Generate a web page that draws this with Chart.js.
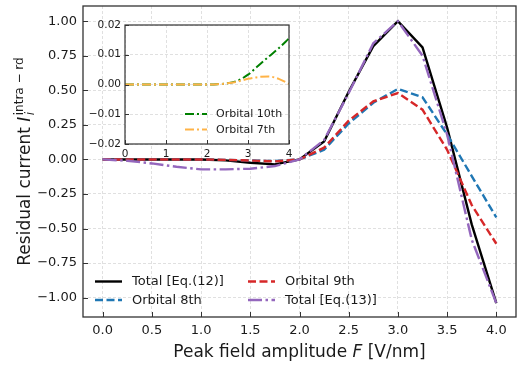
<!DOCTYPE html>
<html><head><meta charset="utf-8">
<script src="https://cdn.jsdelivr.net/npm/chart.js@4.4.0/dist/chart.umd.min.js"></script>
<style>
html,body{margin:0;padding:0;background:#fff;}
#wrap{position:relative;width:523px;height:369px;overflow:hidden;}
#main{position:absolute;left:0;top:0;}
#inset{position:absolute;left:88px;top:18px;}
</style></head><body>
<div id="wrap"><canvas id="main" width="523" height="369"></canvas><canvas id="inset" width="210" height="142"></canvas></div>
<script>
// ---------------- data ----------------
const fieldValues = [0, 0.25, 0.5, 0.75, 1.0, 1.25, 1.5, 1.75, 2.0, 2.25, 2.5, 2.75, 3.0, 3.25, 3.5, 3.75, 4.0];
const totalEq12 = [0, 0, 0, 0, 0, -0.007, -0.024, -0.036, 0, 0.13, 0.49, 0.82, 1.0, 0.81, 0.23, -0.47, -1.04];
const orbital8  = [0, 0, 0, 0, 0, -0.003, -0.008, -0.012, 0, 0.07, 0.26, 0.41, 0.51, 0.45, 0.18, -0.12, -0.42];
const orbital9  = [0, 0, 0, 0, 0, -0.003, -0.008, -0.014, 0, 0.085, 0.28, 0.42, 0.48, 0.36, 0.07, -0.33, -0.61];
const totalEq13 = [0, -0.01, -0.029, -0.053, -0.072, -0.072, -0.067, -0.048, 0, 0.14, 0.48, 0.84, 1.0, 0.75, 0.18, -0.58, -1.04];
const orbital10 = [0, 0, 0, 0, 0, 0, 0, 0, 0, 0.0001, 0.0004, 0.0013, 0.0033, 0.0063, 0.0093, 0.0122, 0.0155];
const orbital7  = [0, 0, 0, 0, 0, 0, 0, 0, 0, 0.0001, 0.0004, 0.001, 0.0019, 0.0025, 0.0027, 0.0019, 0.0002];

const xTickValues = [0, 0.5, 1, 1.5, 2, 2.5, 3, 3.5, 4];
const xTickLabels = ['0.0', '0.5', '1.0', '1.5', '2.0', '2.5', '3.0', '3.5', '4.0'];
const yTickValues = [1, 0.75, 0.5, 0.25, 0, -0.25, -0.5, -0.75, -1];
const yTickLabels = ['1.00', '0.75', '0.50', '0.25', '0.00', '\u22120.25', '\u22120.50', '\u22120.75', '\u22121.00'];
const insetXTickValues = [0, 1, 2, 3, 4];
const insetXTickLabels = ['0', '1', '2', '3', '4'];
const insetYTickValues = [0.02, 0.01, 0, -0.01, -0.02];
const insetYTickLabels = ['0.02', '0.01', '0.00', '\u22120.01', '\u22120.02'];

const seriesLabels = ['Total [Eq.(12)]', 'Orbital 8th', 'Orbital 9th', 'Total [Eq.(13)]'];
const insetLabels = ['Orbital 10th', 'Orbital 7th'];
const xTitleParts = ['Peak field amplitude ', 'F', ' [V/nm]'];
const yTitleParts = ['Residual current ', 'I', 'i', 'intra \u2212 rd'];

// ---------------- styles ----------------
const FONT = '"DejaVu Sans", "Liberation Sans", sans-serif';
const TXT = '#1a1a1a';
const SPINE = '#333333';
const GRID = '#d8d8d8';
const pts = (ys) => fieldValues.map((x, i) => ({x: x, y: ys[i]}));

function drawFrameAndTicks(chart, spineW, tickLen) {
  const ctx = chart.ctx, a = chart.chartArea;
  ctx.save();
  ctx.strokeStyle = SPINE;
  ctx.lineWidth = 1;
  ctx.beginPath();
  const xs = chart.scales.x, ys = chart.scales.y;
  xs.ticks.forEach(t => {
    const px = Math.round(xs.getPixelForValue(t.value)) + 0.5;
    ctx.moveTo(px, a.bottom); ctx.lineTo(px, a.bottom - tickLen);
  });
  ys.ticks.forEach(t => {
    const py = Math.round(ys.getPixelForValue(t.value)) + 0.5;
    ctx.moveTo(a.left, py); ctx.lineTo(a.left + tickLen, py);
  });
  ctx.stroke();
  ctx.lineWidth = spineW;
  ctx.strokeRect(a.left, a.top, a.right - a.left, a.bottom - a.top);
  ctx.restore();
}

function drawLegend(chart, entries, fontSize, sampleLen) {
  const ctx = chart.ctx;
  ctx.save();
  ctx.font = fontSize + 'px ' + FONT;
  ctx.textBaseline = 'middle';
  entries.forEach(e => {
    const ds = chart.data.datasets[e.index];
    ctx.strokeStyle = ds.borderColor;
    ctx.lineWidth = ds.borderWidth;
    ctx.setLineDash(ds.borderDash || []);
    ctx.lineCap = 'butt';
    ctx.beginPath();
    ctx.moveTo(e.x, e.y); ctx.lineTo(e.x + sampleLen, e.y);
    ctx.stroke();
    ctx.setLineDash([]);
    ctx.fillStyle = TXT;
    ctx.fillText(ds.label, e.tx, e.y + 0.5);
  });
  ctx.restore();
}

const mainDecor = {
  id: 'mainDecor',
  beforeDraw(chart) {
    const ctx = chart.ctx;
    ctx.save(); ctx.fillStyle = '#fff'; ctx.fillRect(0, 0, chart.width, chart.height); ctx.restore();
  },
  afterDraw(chart) {
    const ctx = chart.ctx, a = chart.chartArea;
    drawFrameAndTicks(chart, 1.3, 5);
    drawLegend(chart, [
      {index: 0, x: 95, y: 281.5, tx: 132},
      {index: 1, x: 95, y: 300, tx: 132},
      {index: 2, x: 248, y: 281.5, tx: 285},
      {index: 3, x: 248, y: 300, tx: 285}
    ], 13, 27);
    // x title
    ctx.save();
    ctx.fillStyle = TXT;
    ctx.textBaseline = 'alphabetic';
    const fs = 17;
    const fN = fs + 'px ' + FONT, fI = 'italic ' + fs + 'px ' + FONT;
    ctx.font = fN; const w1 = ctx.measureText(xTitleParts[0]).width, w3 = ctx.measureText(xTitleParts[2]).width;
    ctx.font = fI; const w2 = ctx.measureText(xTitleParts[1]).width;
    let x0 = (a.left + a.right) / 2 - (w1 + w2 + w3) / 2;
    const by = 357;
    ctx.font = fN; ctx.fillText(xTitleParts[0], x0, by);
    ctx.font = fI; ctx.fillText(xTitleParts[1], x0 + w1, by);
    ctx.font = fN; ctx.fillText(xTitleParts[2], x0 + w1 + w2, by);
    // y title (rotated)
    const ss = 12;
    const fS = ss + 'px ' + FONT, fSI = 'italic ' + ss + 'px ' + FONT;
    ctx.font = fN; const v1 = ctx.measureText(yTitleParts[0]).width;
    ctx.font = fI; const v2 = ctx.measureText(yTitleParts[1]).width;
    ctx.font = fSI; const v3 = ctx.measureText(yTitleParts[2]).width;
    ctx.font = fS; const v4 = ctx.measureText(yTitleParts[3]).width;
    const total = v1 + v2 + 1.5 + Math.max(v3, v4);
    ctx.translate(30, (a.top + a.bottom) / 2);
    ctx.rotate(-Math.PI / 2);
    let s = -total / 2;
    ctx.font = fN; ctx.fillText(yTitleParts[0], s, 0);
    ctx.font = fI; ctx.fillText(yTitleParts[1], s + v1, 0);
    ctx.font = fSI; ctx.fillText(yTitleParts[2], s + v1 + v2 + 1.5, 4);
    ctx.font = fS; ctx.fillText(yTitleParts[3], s + v1 + v2 + 1.5, -7.5);
    ctx.restore();
  }
};

const insetDecor = {
  id: 'insetDecor',
  beforeDraw(chart) {
    const ctx = chart.ctx, a = chart.chartArea;
    ctx.save(); ctx.fillStyle = '#fff'; ctx.fillRect(a.left, a.top, a.right - a.left, a.bottom - a.top); ctx.restore();
  },
  afterDraw(chart) {
    drawFrameAndTicks(chart, 1.2, 4);
    drawLegend(chart, [
      {index: 0, x: 97, y: 96, tx: 128},
      {index: 1, x: 97, y: 111.5, tx: 128}
    ], 11, 22);
  }
};

function axis(min, max, tickVals, tickLabels, fontSize, pad, size, horizontal) {
  return {
    type: 'linear', min: min, max: max,
    afterBuildTicks(s) { s.ticks = tickVals.map(v => ({value: v})); },
    afterFit(s) {
      if (horizontal) { s.height = size; } else { s.width = size; }
      s.paddingTop = 0; s.paddingBottom = 0; s.paddingLeft = 0; s.paddingRight = 0;
    },
    ticks: {
      callback: (v) => tickLabels[tickVals.indexOf(v)],
      font: {family: FONT, size: fontSize}, color: TXT, padding: pad,
      maxRotation: 0, autoSkip: false
    },
    grid: {color: GRID, lineWidth: 0.8, drawTicks: false},
    border: {display: false, dash: [3, 2]}
  };
}

new Chart(document.getElementById('main'), {
  type: 'line',
  data: {
    datasets: [
      {label: seriesLabels[0], data: pts(totalEq12), borderColor: '#000000', borderWidth: 2.4, order: 4},
      {label: seriesLabels[1], data: pts(orbital8), borderColor: '#1f77b4', borderWidth: 2.4, borderDash: [8, 3.5], order: 3},
      {label: seriesLabels[2], data: pts(orbital9), borderColor: '#d62728', borderWidth: 2.4, borderDash: [8, 3.5], order: 2},
      {label: seriesLabels[3], data: pts(totalEq13), borderColor: '#9467bd', borderWidth: 2.4, borderDash: [14, 3.5, 2.5, 3.5], order: 1}
    ]
  },
  options: {
    responsive: false, animation: false, devicePixelRatio: 1,
    layout: {padding: {top: 6, right: 7, left: 0, bottom: 0}},
    plugins: {legend: {display: false}, tooltip: {enabled: false}},
    elements: {point: {radius: 0}, line: {tension: 0, fill: false}},
    scales: {
      x: axis(-0.2, 4.2, xTickValues, xTickLabels, 13, 6, 52, true),
      y: axis(-1.14, 1.11, yTickValues, yTickLabels, 13, 6, 83, false)
    }
  },
  plugins: [mainDecor]
});

new Chart(document.getElementById('inset'), {
  type: 'line',
  data: {
    datasets: [
      {label: insetLabels[0], data: pts(orbital10), borderColor: '#008000', borderWidth: 2, borderDash: [9, 3, 2, 3], order: 2},
      {label: insetLabels[1], data: pts(orbital7), borderColor: '#ffb347', borderWidth: 2, borderDash: [9, 3, 2, 3], order: 1}
    ]
  },
  options: {
    responsive: false, animation: false, devicePixelRatio: 1,
    layout: {padding: {top: 7, right: 9, left: 0, bottom: 0}},
    plugins: {legend: {display: false}, tooltip: {enabled: false}},
    elements: {point: {radius: 0}, line: {cubicInterpolationMode: 'monotone', fill: false}},
    scales: {
      x: axis(0, 4, insetXTickValues, insetXTickLabels, 10.5, 4, 16, true),
      y: axis(-0.02, 0.02, insetYTickValues, insetYTickLabels, 10.5, 4, 37, false)
    }
  },
  plugins: [insetDecor]
});
</script>
</body></html>
